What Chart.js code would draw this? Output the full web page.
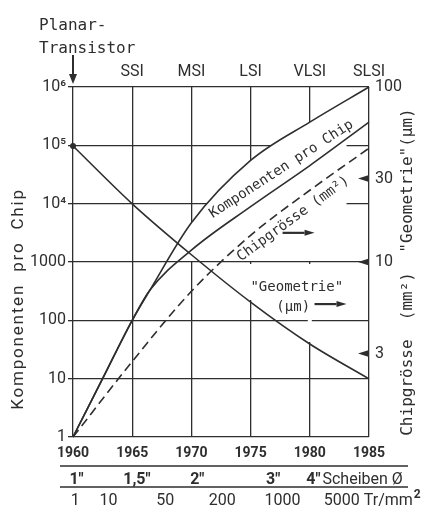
<!DOCTYPE html>
<html lang="de">
<head>
<meta charset="utf-8">
<title>Komponenten pro Chip 1960–1985</title>
<script src="https://cdn.jsdelivr.net/npm/chart.js@4.4.1/dist/chart.umd.min.js"></script>
<style>
  html, body { margin: 0; padding: 0; background: #fff; }
  canvas { display: block; }
</style>
</head>
<body>
<canvas id="chart" width="425" height="507"></canvas>
<script>
'use strict';

// ── Daten ─────────────────────────────────
const KOMP_JAHRE = [1960, 1962.5, 1965, 1966.5, 1970, 1975, 1980, 1985];
const KOMP_OBEN  = [1, 10, 100, 330, 4700, 55000, 250000, 1000000];
const KOMP_UNTEN = [1, 10, 100, 330, 1600, 8900, 45000, 250000];

const JAHRE    = [1960, 1965, 1970, 1975, 1980, 1985];
const CHIP_MM2 = [1, 2.7, 6.8, 14.2, 25.7, 44.7];   // rechte Achse
const GEOM_UM  = [46, 21.5, 11, 5.9, 3.4, 2.15];    // rechte Achse

const LINKS_TICKS  = [1, 10, 100, 1000, 1e4, 1e5, 1e6];
const LINKS_LABELS = ['1', '10', '100', '1000', '10⁴', '10⁵', '10⁶'];
const RECHTS_TICKS = [3, 10, 30, 100];
const RECHTS_PFEIL = [3, 10, 30];

const AERA_JAHRE  = [1965, 1970, 1975, 1980, 1985];
const AERA_LABELS = ['SSI', 'MSI', 'LSI', 'VLSI', 'SLSI'];

const SCHEIBEN_JAHRE  = [1960.3, 1965.4, 1970.5, 1976.9, 1980.3];
const SCHEIBEN_LABELS = ['1"', '1,5"', '2"', '3"', '4"'];
const DICHTE_JAHRE  = [1960.2, 1963, 1967.8, 1972.6, 1977.7, 1982.7];
const DICHTE_LABELS = ['1', '10', '50', '200', '1000', '5000'];

// ── Stil ─────
const INK  = '#2e2e2e';
const SANS = 'Roboto, "Liberation Sans", sans-serif';
const MONO = '"DejaVu Sans Mono", "Liberation Mono", monospace';

const xy = (xs, ys) => xs.map((x, i) => ({ x, y: ys[i] }));

function pfeil(ctx, x0, y0, x1, y1, lang, breit) {
  const w = Math.atan2(y1 - y0, x1 - x0);
  const bx = x1 - lang * Math.cos(w), by = y1 - lang * Math.sin(w);
  ctx.beginPath(); ctx.moveTo(x0, y0); ctx.lineTo(bx, by); ctx.stroke();
  ctx.beginPath();
  ctx.moveTo(x1, y1);
  ctx.lineTo(bx + breit * Math.sin(w), by - breit * Math.cos(w));
  ctx.lineTo(bx - breit * Math.sin(w), by + breit * Math.cos(w));
  ctx.closePath(); ctx.fill();
}

function schraeg(ctx, text, x, y, grad) {
  ctx.save();
  ctx.translate(x, y);
  ctx.rotate(grad * Math.PI / 180);
  ctx.fillText(text, 0, 0);
  ctx.restore();
}

// Gitter im Bereich der Kurvenbeschriftungen aussparen
const gitterLuecken = {
  id: 'gitterLuecken',
  beforeDatasetsDraw(chart) {
    const { ctx, chartArea: a, scales: { x, y } } = chart;
    const oben = chart.getDatasetMeta(0).dataset;
    const geo = chart.getDatasetMeta(3).data;
    oben.updateControlPoints(a, 'x');
    ctx.save();
    ctx.beginPath();
    oben.path(ctx);
    ctx.lineTo(a.right, a.bottom);
    ctx.lineTo(a.left, a.bottom);
    ctx.closePath();
    ctx.clip();
    ctx.fillStyle = '#fff';
    const x0 = x.getPixelForValue(1966), x1 = x.getPixelForValue(1983.1);
    const yTief = y.getPixelForValue(1000) - 1;
    ctx.fillRect(x0, a.top, x1 - x0, yTief - a.top);
    ctx.strokeStyle = '#fff';
    ctx.lineWidth = 4;
    [3, 4].forEach(i => {
      const p = geo[i];
      ctx.beginPath();
      ctx.moveTo(p.x, yTief + 3);
      ctx.lineTo(p.x, p.y - 2);
      ctx.stroke();
    });
    ctx.restore();
  }
};

const beschriftung = {
  id: 'beschriftung',
  afterDraw(chart) {
    const { ctx, chartArea: a, scales: { x, y, y2 } } = chart;
    ctx.save();
    ctx.fillStyle = INK;
    ctx.strokeStyle = INK;

    // Planar-Transistor mit Pfeil
    const x60 = x.getPixelForValue(1960);
    ctx.font = `16px ${MONO}`;
    ctx.textAlign = 'left';
    ctx.textBaseline = 'alphabetic';
    ctx.fillText('Planar-', x60 - 34, a.top - 57);
    ctx.fillText('Transistor', x60 - 34, a.top - 34);
    ctx.lineWidth = 2;
    pfeil(ctx, x60, a.top - 32, x60, a.top - 3, 10, 4);

    // Achsentitel
    ctx.textAlign = 'center';
    ctx.textBaseline = 'middle';
    ctx.font = `17px ${SANS}`;
    ctx.letterSpacing = '1.8px';
    schraeg(ctx, 'Komponenten  pro  Chip', 19, 299, -90);
    ctx.letterSpacing = '0px';
    ctx.font = `16px ${MONO}`;
    schraeg(ctx, 'Chipgrösse  (mm²)  "Geometrie"(µm)', 408, 272, -90);

    // Kurvenbeschriftungen
    ctx.font = `14px ${MONO}`;
    schraeg(ctx, 'Komponenten pro Chip', x.getPixelForValue(1977.6), y.getPixelForValue(3.9e4), -33);
    schraeg(ctx, 'Chipgrösse (mm²)', x.getPixelForValue(1978.6), y.getPixelForValue(5500), -36);
    ctx.fillText('"Geometrie"', x.getPixelForValue(1978.9), y.getPixelForValue(372));
    ctx.fillText('(µm)', x.getPixelForValue(1978.6), y.getPixelForValue(170));
    ctx.lineWidth = 2.2;
    const yc = y.getPixelForValue(3160);
    pfeil(ctx, x.getPixelForValue(1977.7), yc, x.getPixelForValue(1980.4), yc, 10, 3);
    const yg = y.getPixelForValue(190);
    pfeil(ctx, x.getPixelForValue(1980.4), yg, x.getPixelForValue(1983.1), yg, 10, 3);

    // Markierungen an der rechten Achse
    RECHTS_PFEIL.forEach(v => {
      const yy = y2.getPixelForValue(v);
      ctx.beginPath();
      ctx.moveTo(a.right - 11, yy);
      ctx.lineTo(a.right, yy - 3.5);
      ctx.lineTo(a.right, yy + 3.5);
      ctx.closePath();
      ctx.fill();
    });

    // Zeilen unter der Zeitachse
    ctx.lineWidth = 1.3;
    [a.bottom + 29, a.bottom + 50].forEach(yy => {
      ctx.beginPath();
      ctx.moveTo(a.left - 13, yy);
      ctx.lineTo(a.right + 39, yy);
      ctx.stroke();
    });
    ctx.textBaseline = 'alphabetic';
    ctx.textAlign = 'center';
    ctx.font = `bold 16px ${SANS}`;
    SCHEIBEN_JAHRE.forEach((j, i) => ctx.fillText(SCHEIBEN_LABELS[i], x.getPixelForValue(j), a.bottom + 47));
    const letzt = SCHEIBEN_LABELS.length - 1;
    const xs = x.getPixelForValue(SCHEIBEN_JAHRE[letzt]) + ctx.measureText(SCHEIBEN_LABELS[letzt]).width / 2 + 2;
    ctx.font = `16px ${SANS}`;
    ctx.textAlign = 'left';
    ctx.fillText('Scheiben Ø', xs, a.bottom + 47);

    ctx.textAlign = 'center';
    DICHTE_JAHRE.forEach((j, i) => ctx.fillText(DICHTE_LABELS[i], x.getPixelForValue(j), a.bottom + 68));
    const ld = DICHTE_LABELS.length - 1;
    const xt = x.getPixelForValue(DICHTE_JAHRE[ld]) + ctx.measureText(DICHTE_LABELS[ld]).width / 2 + 4;
    ctx.textAlign = 'left';
    ctx.fillText('Tr/mm', xt, a.bottom + 68);
    const wt = ctx.measureText('Tr/mm').width;
    ctx.font = `bold 12px ${SANS}`;
    ctx.fillText('2', xt + wt + 1, a.bottom + 61);

    ctx.restore();
  }
};

const linie = {
  borderColor: INK,
  borderWidth: 1.6,
  pointRadius: 0,
  cubicInterpolationMode: 'monotone',
  clip: false,
  fill: false
};

new Chart(document.getElementById('chart'), {
  type: 'line',
  data: {
    datasets: [
      { ...linie, label: 'Komponenten pro Chip', data: xy(KOMP_JAHRE, KOMP_OBEN), yAxisID: 'y' },
      { ...linie, label: 'Komponenten pro Chip (untere Kurve)', data: xy(KOMP_JAHRE, KOMP_UNTEN), yAxisID: 'y' },
      { ...linie, label: 'Chipgrösse (mm²)', data: xy(JAHRE, CHIP_MM2), yAxisID: 'y2', borderDash: [9, 5] },
      {
        ...linie, label: '"Geometrie" (µm)', data: xy(JAHRE, GEOM_UM), yAxisID: 'y2',
        pointRadius: ctx => (ctx.dataIndex === 0 ? 3 : 0),
        pointBackgroundColor: INK, pointBorderWidth: 0
      }
    ]
  },
  options: {
    responsive: false,
    devicePixelRatio: 1,
    animation: false,
    events: [],
    layout: { padding: 0 },
    plugins: { legend: { display: false }, tooltip: { enabled: false } },
    scales: {
      x: {
        type: 'linear', position: 'bottom', min: 1960, max: 1985,
        afterBuildTicks: s => { s.ticks = JAHRE.map(v => ({ value: v })); },
        grid: { color: INK, lineWidth: 1.3, drawTicks: false },
        border: { display: false },
        ticks: {
          color: INK, padding: 8, maxRotation: 0, autoSkip: false,
          font: { family: SANS, size: 14, weight: 'bold' },
          callback: v => String(v)
        },
        afterFit: s => { s.height = 70; }
      },
      xTop: {
        type: 'linear', position: 'top', min: 1960, max: 1985,
        afterBuildTicks: s => { s.ticks = AERA_JAHRE.map(v => ({ value: v })); },
        grid: { display: false, drawTicks: false },
        border: { display: false },
        ticks: {
          color: INK, padding: 5, maxRotation: 0, autoSkip: false,
          font: { family: SANS, size: 16 },
          callback: (v, i) => AERA_LABELS[i]
        },
        afterFit: s => { s.height = 87; }
      },
      y: {
        type: 'logarithmic', position: 'left', min: 1, max: 1e6,
        afterBuildTicks: s => { s.ticks = LINKS_TICKS.map(v => ({ value: v })); },
        grid: { color: INK, lineWidth: 1.3, tickLength: 5 },
        border: { display: false },
        ticks: {
          color: INK, padding: 2, autoSkip: false,
          font: { family: SANS, size: 16 },
          callback: (v, i) => LINKS_LABELS[i]
        },
        afterFit: s => { s.width = 73; }
      },
      y2: {
        type: 'logarithmic', position: 'right', min: 1, max: 100,
        afterBuildTicks: s => { s.ticks = RECHTS_TICKS.map(v => ({ value: v })); },
        grid: { display: false, drawTicks: false },
        border: { display: false },
        ticks: {
          color: INK, padding: 6, autoSkip: false,
          font: { family: SANS, size: 16 },
          callback: v => String(v)
        },
        afterFit: s => { s.width = 56; }
      }
    }
  },
  plugins: [gitterLuecken, beschriftung]
});
</script>
</body>
</html>
